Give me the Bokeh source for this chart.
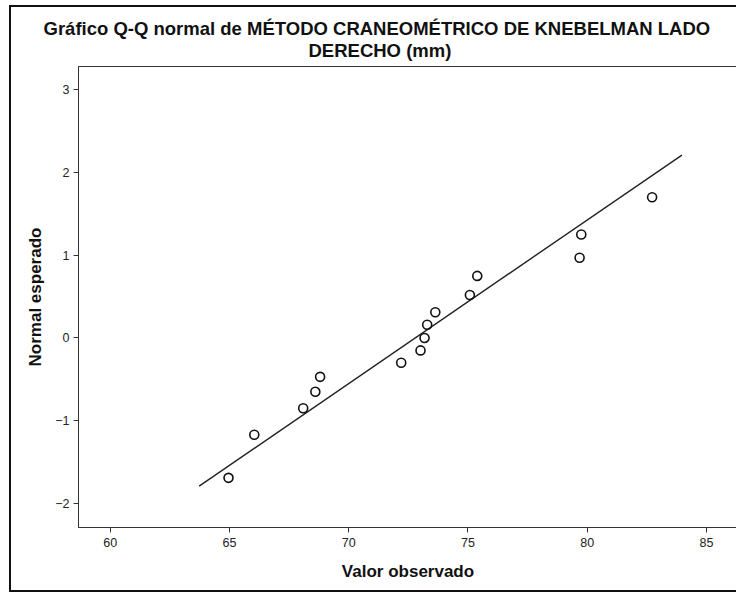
from bokeh.plotting import figure
from bokeh.models import Range1d, FixedTicker, Title
from bokeh.embed import file_html
from bokeh.resources import INLINE

observed = [64.96, 66.04, 68.09, 68.60, 68.80, 72.20, 73.01, 73.18, 73.29, 73.63,
            75.08, 75.39, 79.68, 79.75, 82.72]
expected = [-1.69, -1.17, -0.85, -0.65, -0.47, -0.30, -0.15, 0.00, 0.16, 0.31,
            0.52, 0.75, 0.97, 1.25, 1.70]
# Reference line endpoints
line_x = [63.73, 83.97]
line_y = [-1.79, 2.21]

x_ticks = [60, 65, 70, 75, 80, 85]
y_ticks = [-2, -1, 0, 1, 2, 3]

title_1 = "Gráfico Q-Q normal de MÉTODO CRANEOMÉTRICO DE KNEBELMAN LADO"
title_2 = "DERECHO (mm)"

p = figure(width=727, height=587, output_backend="svg", toolbar_location=None,
           x_range=Range1d(58.67, 86.3), y_range=Range1d(-2.29, 3.28),
           min_border_left=67, min_border_right=1, min_border_top=59,
           min_border_bottom=67)
p.background_fill_color = "white"
p.border_fill_color = "white"
p.outline_line_color = "#333333"
p.outline_line_width = 1
p.grid.visible = False
p.styles = {"margin-left": "9px", "margin-top": "5px",
            "border-left": "2px solid #111111", "border-top": "2px solid #111111",
            "border-bottom": "2px solid #111111"}

p.title.visible = False
p.add_layout(Title(text=title_2, align="left", offset=230, standoff=11,
                   text_font="Liberation Sans", text_font_size="18.5px",
                   text_font_style="bold", text_color="#111111"), "above")
p.add_layout(Title(text=title_1, align="left", offset=-35, standoff=-12,
                   text_font="Liberation Sans", text_font_size="18.5px",
                   text_font_style="bold", text_color="#111111"), "above")

p.line(line_x, line_y, line_color="#222222", line_width=1.4)
p.scatter(observed, expected, size=9, marker="circle", fill_color=None,
          line_color="#111111", line_width=1.6)

for ax in (p.xaxis[0], p.yaxis[0]):
    ax.major_label_text_font = "Liberation Sans"
    ax.major_label_text_font_size = "12.5px"
    ax.major_label_text_color = "#222222"
    ax.axis_label_text_font = "Liberation Sans"
    ax.axis_label_text_font_size = "17px"
    ax.axis_label_text_font_style = "bold"
    ax.axis_label_text_color = "#111111"
    ax.major_tick_out = 5
    ax.major_tick_in = 0
    ax.minor_tick_out = 0
    ax.minor_tick_in = 0
    ax.axis_line_color = "#333333"
    ax.major_tick_line_color = "#333333"

p.xaxis[0].ticker = FixedTicker(ticks=x_ticks)
p.yaxis[0].ticker = FixedTicker(ticks=y_ticks)
p.xaxis[0].axis_label = "Valor observado"
p.yaxis[0].axis_label = "Normal esperado"
p.xaxis[0].major_label_standoff = 5
p.xaxis[0].axis_label_standoff = 12
p.yaxis[0].major_label_standoff = 4
p.yaxis[0].axis_label_standoff = 7

open("out.html", "w").write(file_html(p, INLINE))
